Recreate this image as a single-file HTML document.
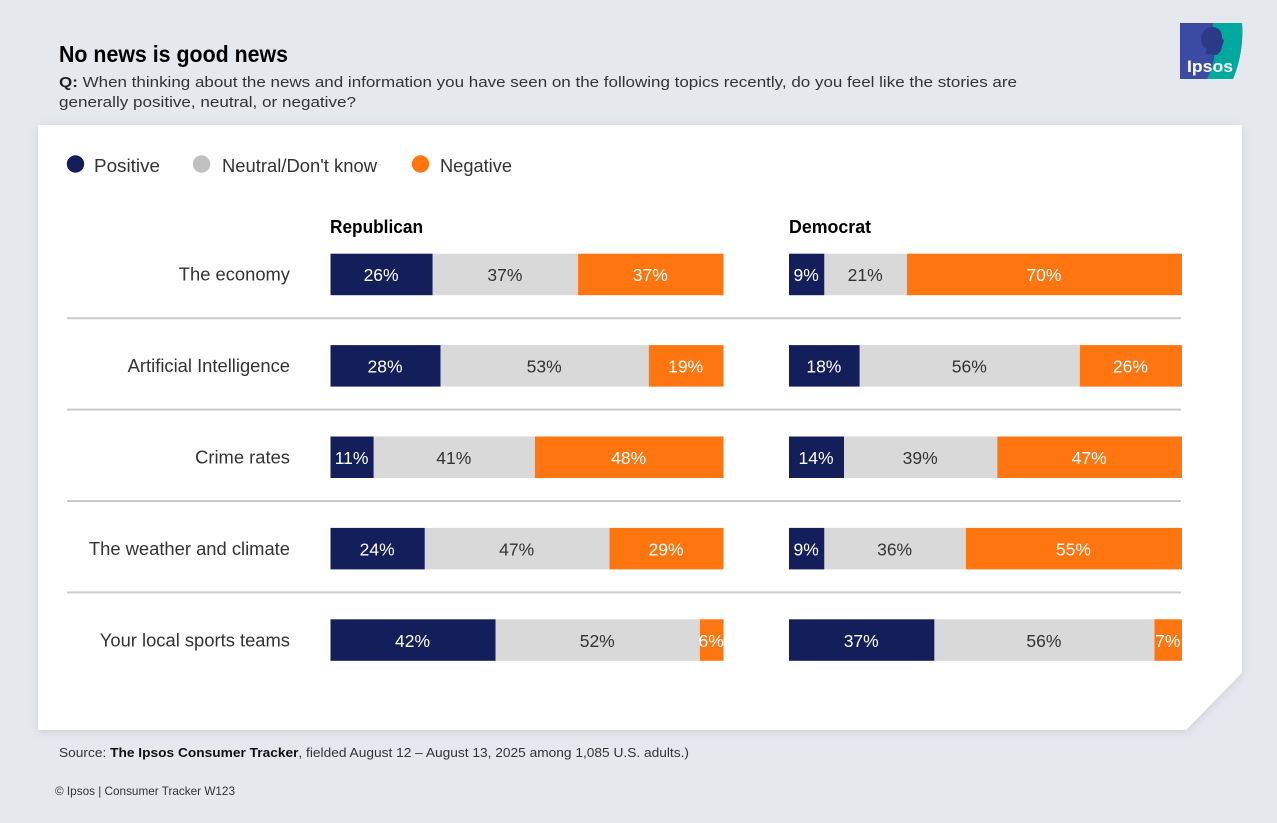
<!DOCTYPE html>
<html lang="en">
<head>
<meta charset="utf-8">
<title>No news is good news</title>
<style>
html,body{margin:0;padding:0;background:#e5e8ed;}
body{width:1277px;height:823px;overflow:hidden;}
svg{display:block;font-family:"Liberation Sans",sans-serif;}
</style>
</head>
<body>
<svg id="chart" xmlns="http://www.w3.org/2000/svg" width="1277" height="823" viewBox="0 0 1277 823">
  <defs>
    <filter id="card-shadow" x="-5%" y="-5%" width="110%" height="110%">
      <feDropShadow dx="0" dy="2" stdDeviation="4" flood-color="#9aa3b0" flood-opacity="0.35"/>
    </filter>
    <clipPath id="logo-clip"><path d="M1180 23H1242Q1244 52 1233 79H1180Z"/></clipPath>
  </defs>
  <rect width="1277" height="823" fill="#e5e8ed"/>
  <text x="59" y="62" font-size="23" font-weight="700" fill="#000" textLength="229" lengthAdjust="spacingAndGlyphs">No news is good news</text>
  <text x="59" y="87" font-size="15" fill="#333" textLength="958" lengthAdjust="spacingAndGlyphs"><tspan font-weight="700" fill="#222">Q:</tspan> When thinking about the news and information you have seen on the following topics recently, do you feel like the stories are</text>
  <text x="59" y="107" font-size="15" fill="#333" textLength="297" lengthAdjust="spacingAndGlyphs">generally positive, neutral, or negative?</text>

  <g clip-path="url(#logo-clip)">
    <rect x="1180" y="23" width="64" height="56" fill="#3b4ba3"/>
    <path d="M1213 23H1244V79H1207Q1216 62 1214 48Q1212 35 1213 23Z" fill="#00a99d"/>
    <path d="M1213 27Q1202 28 1201 38Q1201 46 1207 49L1205 54L1217 55Q1222 51 1222 46L1224 41L1222 38Q1222 28 1213 27Z" fill="#2a3a86"/>
    <text x="1187" y="72" font-size="17" font-weight="700" fill="#fff" textLength="46" lengthAdjust="spacingAndGlyphs">Ipsos</text>
  </g>

  <path d="M38 125H1242V673L1186 730H38Z" fill="#fff" filter="url(#card-shadow)"/>

  <g>
    <g>
      <circle cx="75.5" cy="164" r="8.7" fill="#141e5a"/>
      <text x="94" y="172" font-size="18" fill="#333" textLength="66" lengthAdjust="spacingAndGlyphs">Positive</text>
    </g>
    <g>
      <circle cx="201.5" cy="164" r="8.7" fill="#c0c0c0"/>
      <text x="222" y="172" font-size="18" fill="#333" textLength="155" lengthAdjust="spacingAndGlyphs">Neutral/Don't know</text>
    </g>
    <g>
      <circle cx="420.5" cy="164" r="8.7" fill="#ff7510"/>
      <text x="440" y="172" font-size="18" fill="#333" textLength="72" lengthAdjust="spacingAndGlyphs">Negative</text>
    </g>
  </g>

  <text x="330" y="233" font-size="18" font-weight="700" fill="#000" textLength="93" lengthAdjust="spacingAndGlyphs">Republican</text>
  <text x="789" y="233" font-size="18" font-weight="700" fill="#000" textLength="82" lengthAdjust="spacingAndGlyphs">Democrat</text>

  <g id="rows"></g>

  <text x="59" y="757" font-size="13" fill="#333" textLength="630" lengthAdjust="spacingAndGlyphs">Source: <tspan font-weight="700" fill="#111">The Ipsos Consumer Tracker</tspan>, fielded August 12 – August 13, 2025 among 1,085 U.S. adults.)</text>
  <text x="55" y="795" font-size="12" fill="#333" textLength="180" lengthAdjust="spacingAndGlyphs">© Ipsos | Consumer Tracker W123</text>
</svg>
<script>
const categories = ["The economy", "Artificial Intelligence", "Crime rates", "The weather and climate", "Your local sports teams"];
const republicanPositive = [26, 28, 11, 24, 42];
const republicanNeutral = [37, 53, 41, 47, 52];
const republicanNegative = [37, 19, 48, 29, 6];
const democratPositive = [9, 18, 14, 9, 37];
const democratNeutral = [21, 56, 39, 36, 56];
const democratNegative = [70, 26, 47, 55, 7];

const NS = 'http://www.w3.org/2000/svg';
const rows = document.getElementById('rows');
const rowY = i => 253.7 + i * 91.4;
const rowH = 41.5;
const scaleW = v => v / 100 * 393;

function make(tag, parent) {
  const el = document.createElementNS(NS, tag);
  parent.appendChild(el);
  return el;
}

const segStyles = [
  {key: 'positive', fill: '#141e5a', text: '#fff'},
  {key: 'neutral', fill: '#d9d9d9', text: '#333'},
  {key: 'negative', fill: '#ff7510', text: '#fff'}
];

function drawPanel(panel, x0, series, i) {
  let x = x0;
  series.forEach((values, s) => {
    const w = scaleW(values[i]);
    const rect = make('rect', rows);
    
    
    rect.setAttribute('x', x);
    rect.setAttribute('y', rowY(i));
    rect.setAttribute('width', w);
    rect.setAttribute('height', rowH);
    rect.setAttribute('fill', segStyles[s].fill);
    const label = make('text', rows);
    
    
    label.setAttribute('x', x + w / 2 - 0.5);
    label.setAttribute('y', rowY(i) + 27.5);
    label.setAttribute('text-anchor', 'middle');
    label.setAttribute('font-size', '17.5');
    label.setAttribute('fill', segStyles[s].text);
    label.textContent = values[i] + '%';
    x += w;
  });
}

categories.forEach((name, i) => {
  const label = make('text', rows);
  
  
  label.setAttribute('x', 290);
  label.setAttribute('y', rowY(i) + 27);
  label.setAttribute('text-anchor', 'end');
  label.setAttribute('font-size', '18');
  label.setAttribute('fill', '#333');
  label.textContent = name;
  const len = label.getComputedTextLength();
  label.setAttribute('textLength', (len * 1.02).toFixed(1));
  label.setAttribute('lengthAdjust', 'spacingAndGlyphs');

  drawPanel('republican', 330.5, [republicanPositive, republicanNeutral, republicanNegative], i);
  drawPanel('democrat', 789, [democratPositive, democratNeutral, democratNegative], i);

  if (i < categories.length - 1) {
    const line = make('rect', rows);
    
    
    line.setAttribute('x', 67);
    line.setAttribute('y', rowY(i) + 63.5);
    line.setAttribute('width', 1114);
    line.setAttribute('height', 2);
    line.setAttribute('fill', '#cbcbcb');
  }
});
</script>
</body>
</html>
